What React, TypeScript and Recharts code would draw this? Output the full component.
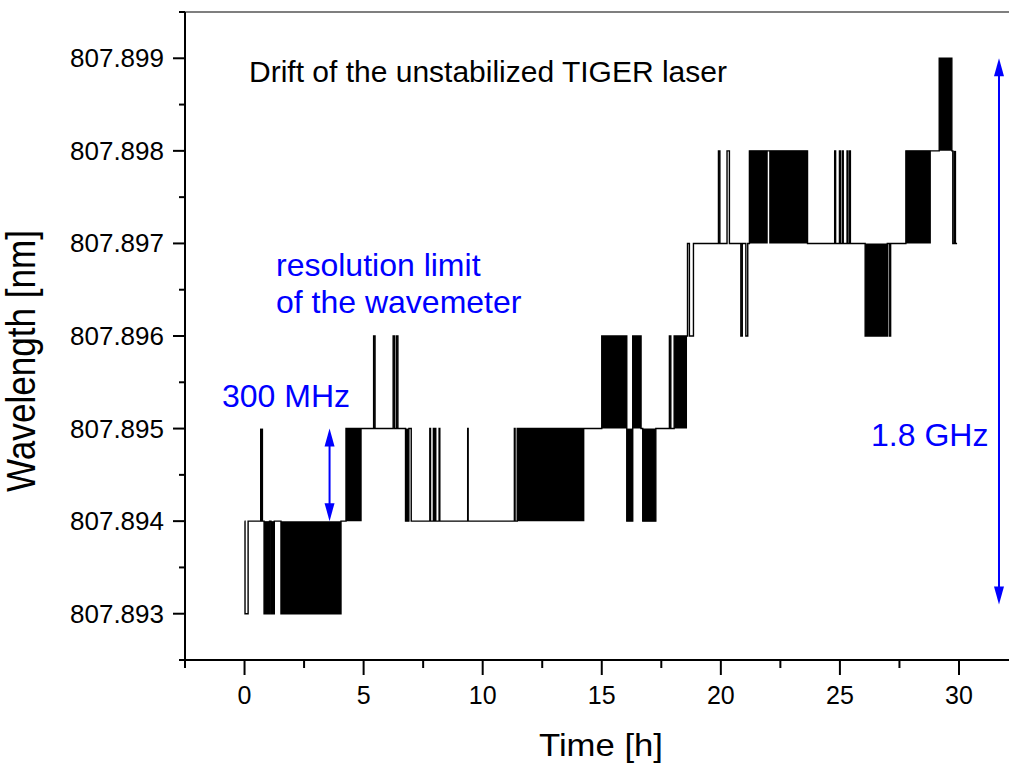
import React from "react";
import { ComposedChart, Line, Area, XAxis, YAxis, ReferenceLine } from "recharts";

// wavemeter reading, stepped (time in h, wavelength in nm)
const traceTime = [
  0, 0.02, 0.15, 0.82, 1.05, 1.11, 1.25, 1.53, 4.05, 4.26, 5.42, 5.48, 6.24, 6.3, 6.38, 6.44,
  6.76, 6.9, 7.0, 7.78, 7.81, 7.93, 7.96, 8.0, 8.03, 8.17, 8.2, 9.37, 9.39, 11.33, 11.36, 11.45,
  15.0, 16.05, 16.3, 16.65, 16.72, 17.27, 17.84, 17.9, 18.04, 18.6, 18.68, 18.85, 19.9, 19.96,
  20.26, 20.36, 20.84, 20.9, 21.05, 21.13, 21.2, 23.64, 24.78, 24.82, 24.98, 25.02, 25.1, 25.14,
  25.3, 25.33, 25.4, 25.44, 26.06, 26.99, 27.07, 27.13, 27.77, 29.17, 29.7, 29.74, 29.92,
];
const traceNm = [
  807.894, 807.893, 807.894, 807.893, 807.894, 807.893, 807.894, 807.893, 807.894, 807.895,
  807.896, 807.895, 807.896, 807.895, 807.896, 807.895, 807.894, 807.895, 807.894, 807.895,
  807.894, 807.895, 807.894, 807.895, 807.894, 807.895, 807.894, 807.895, 807.894, 807.895,
  807.894, 807.895, 807.896, 807.894, 807.896, 807.895, 807.894, 807.895, 807.896, 807.895,
  807.896, 807.897, 807.896, 807.897, 807.898, 807.897, 807.898, 807.897, 807.896, 807.897,
  807.896, 807.897, 807.898, 807.897, 807.898, 807.897, 807.898, 807.897, 807.898, 807.897,
  807.898, 807.897, 807.898, 807.897, 807.896, 807.897, 807.896, 807.897, 807.898, 807.899,
  807.898, 807.897, 807.897,
];

// stretches where the reading toggles too fast to resolve (filled blocks)
const blockStart = [0.65, 0.82, 1.11, 1.53, 4.26, 6.76, 11.45, 15.0, 16.05, 16.3, 16.72, 18.04, 21.2, 22.03, 26.06, 27.77, 29.17, 29.76];
const blockEnd = [0.78, 1.05, 1.25, 4.05, 4.92, 6.9, 14.27, 16.05, 16.3, 16.65, 17.27, 18.58, 21.97, 23.64, 26.99, 28.82, 29.7, 29.88];
const blockLow = [807.894, 807.893, 807.893, 807.893, 807.894, 807.894, 807.894, 807.895, 807.894, 807.895, 807.894, 807.895, 807.897, 807.897, 807.896, 807.897, 807.898, 807.897];
const blockHigh = [807.895, 807.894, 807.894, 807.894, 807.895, 807.895, 807.895, 807.896, 807.895, 807.896, 807.895, 807.896, 807.898, 807.898, 807.897, 807.898, 807.899, 807.898];

const timeTicks = [-2.5, 0, 2.5, 5, 7.5, 10, 12.5, 15, 17.5, 20, 22.5, 25, 27.5, 30];
const timeLabels = [0, 5, 10, 15, 20, 25, 30];
const nmTicks = [
  807.8925, 807.893, 807.8935, 807.894, 807.8945, 807.895, 807.8955, 807.896, 807.8965,
  807.897, 807.8975, 807.898, 807.8985, 807.899, 807.8995,
];
const nmLabels = [807.893, 807.894, 807.895, 807.896, 807.897, 807.898, 807.899];

const FONT = "'Liberation Sans', Arial, Helvetica, sans-serif";
const BLUE = "#0000ff";

const trace = traceTime.map((t, i) => ({ t, nm: traceNm[i] }));

function TimeTick(props: any) {
  const { x, y, payload } = props;
  const axisY = y - 15 - 10;
  const major = timeLabels.includes(payload.value);
  return (
    <g>
      <line x1={x} x2={x} y1={axisY} y2={axisY + (major ? 15 : 8)} stroke="#000" strokeWidth={2} />
      {major && (
        <text x={x} y={axisY + 44} textAnchor="middle" fontSize={25} fontFamily={FONT} fill="#000">
          {payload.value}
        </text>
      )}
    </g>
  );
}

function NmTick(props: any) {
  const { x, y, payload } = props;
  const axisX = x + 12 + 9;
  const major = nmLabels.some((v) => Math.abs(v - payload.value) < 1e-7);
  return (
    <g>
      <line x1={axisX - (major ? 12 : 6)} x2={axisX} y1={y} y2={y} stroke="#000" strokeWidth={2} />
      {major && (
        <text x={x} y={y + 9} textAnchor="end" fontSize={26} fontFamily={FONT} fill="#000">
          {payload.value.toFixed(3)}
        </text>
      )}
    </g>
  );
}

function DoubleArrow(props: any) {
  const { x1, y1, y2 } = props;
  const top = Math.min(y1, y2);
  const bottom = Math.max(y1, y2);
  return (
    <g>
      <line x1={x1} x2={x1} y1={top + 12} y2={bottom - 12} stroke={BLUE} strokeWidth={2} />
      <polygon points={`${x1},${top} ${x1 - 5},${top + 18} ${x1 + 5},${top + 18}`} fill={BLUE} />
      <polygon points={`${x1},${bottom} ${x1 - 5},${bottom - 18} ${x1 + 5},${bottom - 18}`} fill={BLUE} />
    </g>
  );
}

export default function App() {
  return (
    <div style={{ position: "absolute", left: 0, top: 0, background: "#fff" }}>
      <ComposedChart width={1009} height={765} margin={{ top: 12, right: 0, bottom: 0, left: 0 }}>
        <XAxis
          dataKey="t"
          type="number"
          domain={[-2.5, 32.1]}
          ticks={timeTicks}
          tick={<TimeTick />}
          tickLine={false}
          tickSize={15}
          tickMargin={10}
          height={105}
          axisLine={{ stroke: "#000", strokeWidth: 2 }}
          allowDataOverflow
        />
        <YAxis
          type="number"
          domain={[807.8925, 807.8995]}
          ticks={nmTicks}
          tick={<NmTick />}
          tickLine={false}
          tickSize={12}
          tickMargin={9}
          width={185}
          interval={0}
          axisLine={{ stroke: "#000", strokeWidth: 2 }}
          allowDataOverflow
        />
        <ReferenceLine y={807.8995} stroke="#555" strokeWidth={1.5} ifOverflow="visible" />

        {blockStart.map((s, i) => (
          <Area
            key={"b" + i}
            data={[
              { t: s, r: [blockLow[i], blockHigh[i]] },
              { t: blockEnd[i], r: [blockLow[i], blockHigh[i]] },
            ]}
            dataKey="r"
            type="linear"
            stroke="none"
            fill="#000"
            fillOpacity={1}
            dot={false}
            activeDot={false}
            isAnimationActive={false}
          />
        ))}
        <Line
          data={trace}
          dataKey="nm"
          type="stepAfter"
          stroke="#000"
          strokeWidth={1.4}
          dot={false}
          activeDot={false}
          isAnimationActive={false}
        />

        <ReferenceLine
          segment={[{ x: 3.57, y: 807.895 }, { x: 3.57, y: 807.894 }]}
          shape={<DoubleArrow />}
          ifOverflow="visible"
        />
        <ReferenceLine
          segment={[{ x: 31.68, y: 807.899 }, { x: 31.68, y: 807.8931 }]}
          shape={<DoubleArrow />}
          ifOverflow="visible"
        />

        <text x={249} y={82} fontSize={30} fontFamily={FONT} fill="#000">
          Drift of the unstabilized TIGER laser
        </text>
        <text x={276} y={276} fontSize={32} fontFamily={FONT} fill={BLUE}>
          resolution limit
        </text>
        <text x={276} y={313} fontSize={32} fontFamily={FONT} fill={BLUE}>
          of the wavemeter
        </text>
        <text x={222} y={407} fontSize={32} fontFamily={FONT} fill={BLUE}>
          300 MHz
        </text>
        <text x={871} y={446} fontSize={32} fontFamily={FONT} fill={BLUE}>
          1.8 GHz
        </text>
        <text
          x={35}
          y={361}
          transform="rotate(-90 35 361)"
          textAnchor="middle"
          fontSize={40}
          textLength={262}
          lengthAdjust="spacingAndGlyphs"
          fontFamily={FONT}
          fill="#000"
        >
          Wavelength [nm]
        </text>
        <text
          x={601}
          y={756}
          textAnchor="middle"
          fontSize={32}
          textLength={124}
          lengthAdjust="spacingAndGlyphs"
          fontFamily={FONT}
          fill="#000"
        >
          Time [h]
        </text>
      </ComposedChart>
    </div>
  );
}
